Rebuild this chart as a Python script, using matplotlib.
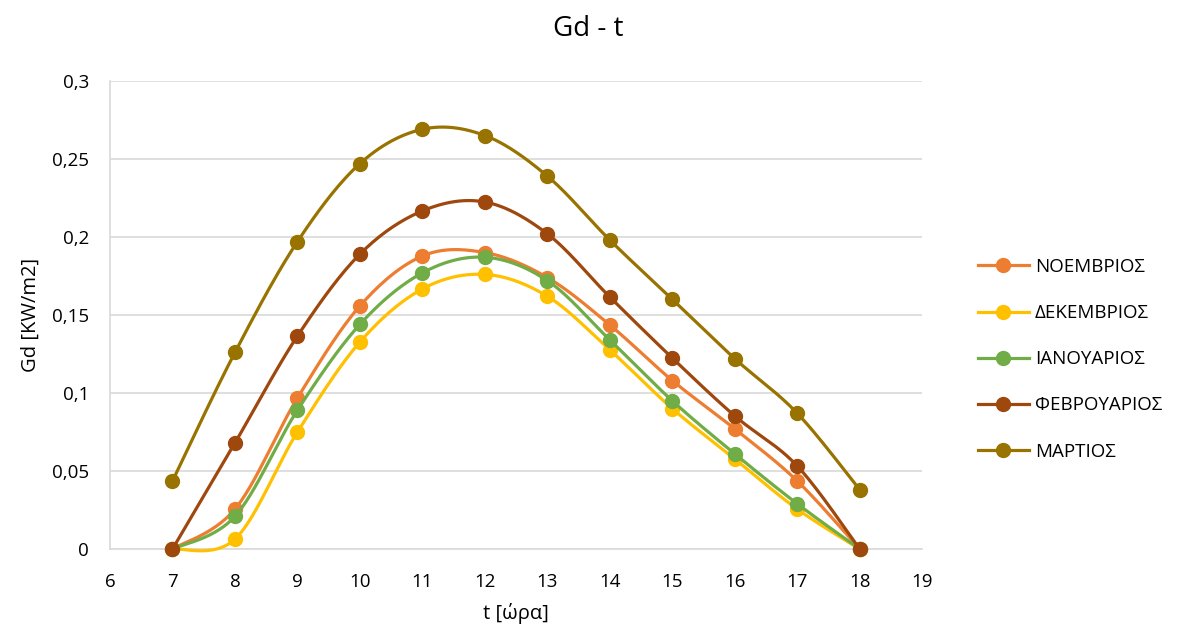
import numpy as np
import matplotlib.pyplot as plt
from matplotlib.lines import Line2D
from matplotlib.ticker import FuncFormatter, MultipleLocator

plt.rcParams['font.family'] = ['Open Sans', 'DejaVu Sans']

hours = [7, 8, 9, 10, 11, 12, 13, 14, 15, 16, 17, 18]
months = ['ΝΟΕΜΒΡΙΟΣ', 'ΔΕΚΕΜΒΡΙΟΣ', 'ΙΑΝΟΥΑΡΙΟΣ', 'ΦΕΒΡΟΥΑΡΙΟΣ', 'ΜΑΡΤΙΟΣ']
gd_nov = [0, 0.0256, 0.0968, 0.1558, 0.1878, 0.190, 0.174, 0.1436, 0.108, 0.077, 0.0436, 0]
gd_dec = [0, 0.0064, 0.075, 0.1327, 0.1667, 0.176, 0.162, 0.1276, 0.090, 0.0577, 0.0256, 0]
gd_jan = [0, 0.021, 0.089, 0.144, 0.177, 0.187, 0.172, 0.134, 0.095, 0.061, 0.029, 0]
gd_feb = [0, 0.068, 0.1365, 0.189, 0.2167, 0.2224, 0.202, 0.1615, 0.1224, 0.0853, 0.0532, 0]
gd_mar = [0.0436, 0.126, 0.197, 0.247, 0.269, 0.265, 0.239, 0.198, 0.160, 0.122, 0.087, 0.038]
colors = ['#ED7D31', '#FFC000', '#70AD47', '#9E480E', '#997300']


def smooth(x, y, n=30):
    # Catmull-Rom style smoothing through every point (like a spreadsheet "smoothed line")
    x = np.asarray(x, float)
    y = np.asarray(y, float)
    px = np.concatenate([[x[0]], x, [x[-1]]])
    py = np.concatenate([[y[0]], y, [y[-1]]])
    xs, ys = [], []
    t = np.linspace(0, 1, n)
    for i in range(1, len(px) - 2):
        b0x, b0y = px[i], py[i]
        b3x, b3y = px[i + 1], py[i + 1]
        b1x = b0x + (px[i + 1] - px[i - 1]) / 6
        b1y = b0y + (py[i + 1] - py[i - 1]) / 6
        b2x = b3x - (px[i + 2] - px[i]) / 6
        b2y = b3y - (py[i + 2] - py[i]) / 6
        xs.append((1 - t) ** 3 * b0x + 3 * (1 - t) ** 2 * t * b1x + 3 * (1 - t) * t ** 2 * b2x + t ** 3 * b3x)
        ys.append((1 - t) ** 3 * b0y + 3 * (1 - t) ** 2 * t * b1y + 3 * (1 - t) * t ** 2 * b2y + t ** 3 * b3y)
    return np.concatenate(xs), np.concatenate(ys)


fig = plt.figure(figsize=(11.85, 6.37), dpi=100)
ax = fig.add_axes([0.0928, 0.138, 0.6855, 0.735])

handles = []
for i, (name, vals, c) in enumerate(zip(months, [gd_nov, gd_dec, gd_jan, gd_feb, gd_mar], colors)):
    sx, sy = smooth(hours, vals)
    ax.plot(sx, sy, color=c, lw=2.3, zorder=3 + i, solid_capstyle='round', clip_on=False)
    ax.plot(hours, vals, 'o', color=c, ms=10, zorder=3 + i, clip_on=False)
    handles.append(Line2D([], [], color=c, lw=2.3, marker='o', ms=10))

ax.set_xlim(6, 19)
ax.set_ylim(0, 0.3)
ax.xaxis.set_major_locator(MultipleLocator(1))
ax.yaxis.set_major_locator(MultipleLocator(0.05))
ax.yaxis.set_major_formatter(FuncFormatter(lambda v, p: ('%g' % round(v, 3)).replace('.', ',')))
ax.grid(axis='y', color='#D9D9D9', lw=1.2)
ax.set_axisbelow(True)
for s in ['top', 'right']:
    ax.spines[s].set_visible(False)
for s in ['left', 'bottom']:
    ax.spines[s].set_color('#D9D9D9')
    ax.spines[s].set_linewidth(1.2)
ax.tick_params(length=0, labelsize=13.5, labelcolor='black')
ax.tick_params(axis='x', pad=17)
ax.tick_params(axis='y', pad=15)

fig.text(0.496, 0.955, 'Gd - t', fontsize=20, ha='center', va='center')
ax.set_xlabel('t [ώρα]', fontsize=14.5, labelpad=9)
ax.set_ylabel('Gd [KW/m2]', fontsize=14.5, labelpad=8)

fig.legend(handles, months, loc='center left', bbox_to_anchor=(0.811, 0.436),
           frameon=False, fontsize=13.5, handlelength=2.7, labelspacing=1.5, handletextpad=0.35)

fig.savefig('out.png', dpi=100)
